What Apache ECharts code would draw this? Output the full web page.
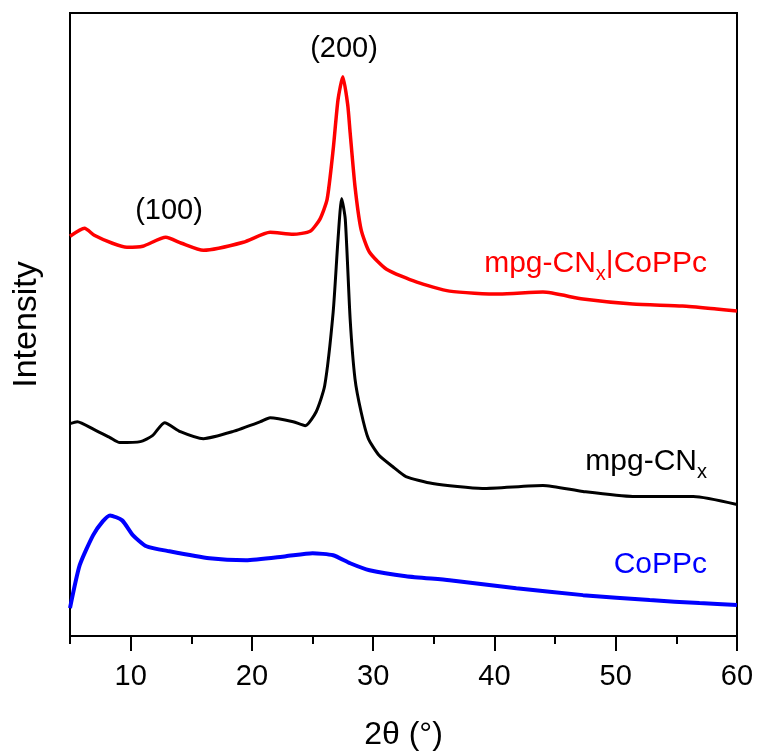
<!DOCTYPE html>
<html>
<head>
<meta charset="utf-8">
<script src="https://cdn.jsdelivr.net/npm/echarts@6/dist/echarts.min.js"></script>
<style>
html,body{margin:0;padding:0;background:#fff;}
#chart{width:757px;height:756px;}
</style>
</head>
<body>
<div id="chart"></div>
<script>
// 2θ (degrees) and intensity (arbitrary units, offset stacked)
const hybridX = [5, 6.2, 7.0, 8.5, 9.7, 11, 12.9, 14.2, 16, 19.3, 21.5, 23.4, 24.8, 25.6, 26.2, 26.7, 27.1, 27.5, 27.9, 28.1, 28.5, 29.0, 29.7, 31.1, 33.6, 36.3, 40.4, 44, 47.3, 51.4, 55.5, 58.3, 60];
const hybridY = [401, 409, 402, 394, 390, 391, 400, 394, 387, 395, 405, 403, 406, 418, 438, 488, 538, 561, 533, 505, 451, 408, 385, 368, 355, 346, 343, 345, 338, 333, 331, 328, 326];

const cnX = [5, 5.6, 7.0, 8.3, 9.1, 10.8, 11.8, 12.8, 14.1, 16, 18.4, 20.7, 21.5, 23.4, 24.4, 25.3, 26.0, 26.7, 27.1, 27.4, 27.7, 28.1, 28.5, 29.0, 29.6, 30.5, 31.6, 32.7, 34.9, 39, 44, 47.3, 51.4, 56.4, 60];
const cnY = [213, 215, 207, 199, 194, 195, 201, 214, 205, 198, 205, 215, 219, 215, 211, 225, 251, 325, 398, 439, 418, 318, 258, 225, 198, 181, 170, 160, 153, 148, 151, 145, 140, 140, 132];

const coppcX = [5, 5.8, 6.9, 7.7, 8.3, 9.3, 10.2, 11.3, 13.2, 16.5, 19.5, 22.8, 25, 26.7, 28.1, 29.7, 32.7, 36.3, 41.8, 47.3, 52.8, 56.9, 60];
const coppcY = [28, 71, 101, 115, 121, 116, 101, 90, 85, 78, 76, 80, 83, 81, 73, 66, 60, 56, 48, 41, 36, 33, 31];

const majorTicks = [10, 20, 30, 40, 50, 60];
const minorTicks = [5, 15, 25, 35, 45, 55];

const seriesNames = ['mpg-CNx|CoPPc', 'mpg-CNx', 'CoPPc'];
const seriesColors = ['#ff0000', '#000000', '#0000ff'];

function pairs(xs, ys) { return xs.map((x, i) => [x, ys[i]]); }

const FONT = '"Liberation Sans", Arial, sans-serif';
const chart = echarts.init(document.getElementById('chart'));

const richSub = {
  m: { fontSize: 30, fontFamily: FONT, lineHeight: 40 },
  s: { fontSize: 20, fontFamily: FONT, verticalAlign: 'bottom', lineHeight: 40 }
};

chart.setOption({
  animation: false,
  backgroundColor: '#fff',
  grid: { left: 70, right: 20, top: 13, bottom: 118, show: true, borderColor: '#000', borderWidth: 2, containLabel: false },
  xAxis: [{
    type: 'value', min: 5, max: 60,
    axisLine: { show: true, lineStyle: { color: '#000', width: 2 } },
    axisTick: { show: true, customValues: majorTicks, length: 15, lineStyle: { color: '#000', width: 2 } },
    axisLabel: { customValues: majorTicks, fontSize: 29, fontFamily: FONT, color: '#000', margin: 26 },
    splitLine: { show: false },
    name: '2θ (°)', nameLocation: 'middle', nameGap: 83,
    nameTextStyle: { fontSize: 32, fontFamily: FONT, color: '#000' }
  }, {
    type: 'value', min: 5, max: 60, position: 'bottom',
    axisLine: { show: false },
    axisTick: { show: true, customValues: minorTicks, length: 8, lineStyle: { color: '#000', width: 2 } },
    axisLabel: { show: false },
    splitLine: { show: false }
  }],
  yAxis: {
    type: 'value', min: 0, max: 625,
    axisLine: { show: true, lineStyle: { color: '#000', width: 2 } },
    axisTick: { show: false },
    axisLabel: { show: false },
    splitLine: { show: false },
    name: 'Intensity', nameLocation: 'middle', nameGap: 26,
    nameTextStyle: { fontSize: 34, fontFamily: FONT, color: '#000' }
  },
  series: [
    { name: seriesNames[0], type: 'line', showSymbol: false, smooth: 0.2, data: pairs(hybridX, hybridY), lineStyle: { color: seriesColors[0], width: 3.5 }, itemStyle: { color: seriesColors[0] } },
    { name: seriesNames[1], type: 'line', showSymbol: false, smooth: 0.2, data: pairs(cnX, cnY), lineStyle: { color: seriesColors[1], width: 3 }, itemStyle: { color: seriesColors[1] } },
    { name: seriesNames[2], type: 'line', showSymbol: false, smooth: 0.2, data: pairs(coppcX, coppcY), lineStyle: { color: seriesColors[2], width: 4 }, itemStyle: { color: seriesColors[2] } }
  ],
  graphic: [
    { type: 'text', x: 169, y: 211, style: { text: '(100)', fill: '#000', font: '29px ' + FONT, align: 'center', verticalAlign: 'middle', textAlign: 'center', textVerticalAlign: 'middle' } },
    { type: 'text', x: 344, y: 49, style: { text: '(200)', fill: '#000', font: '29px ' + FONT, align: 'center', verticalAlign: 'middle', textAlign: 'center', textVerticalAlign: 'middle' } },
    { type: 'text', x: 707, y: 264, style: { text: '{m|mpg-CN}{s|x}{m||CoPPc}', rich: richSub, fill: seriesColors[0], font: '30px ' + FONT, align: 'right', verticalAlign: 'middle', textAlign: 'right', textVerticalAlign: 'middle' } },
    { type: 'text', x: 707, y: 462, style: { text: '{m|mpg-CN}{s|x}', rich: richSub, fill: seriesColors[1], font: '30px ' + FONT, align: 'right', verticalAlign: 'middle', textAlign: 'right', textVerticalAlign: 'middle' } },
    { type: 'text', x: 707, y: 565, style: { text: 'CoPPc', fill: seriesColors[2], font: '30px ' + FONT, align: 'right', verticalAlign: 'middle', textAlign: 'right', textVerticalAlign: 'middle' } }
  ]
});
</script>
</body>
</html>
